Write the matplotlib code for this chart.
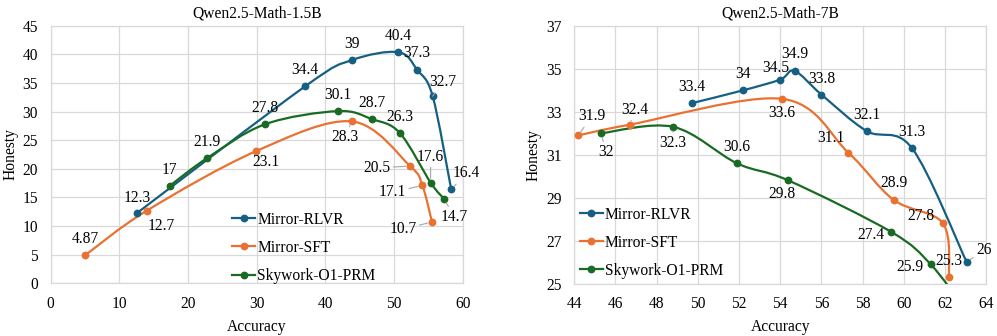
import numpy as np
import matplotlib
matplotlib.use("Agg")
import matplotlib.pyplot as plt
from matplotlib.path import Path
from matplotlib.patches import PathPatch

# ---------------- data ----------------
series_names = ["Mirror-RLVR", "Mirror-SFT", "Skywork-O1-PRM"]

# Qwen2.5-Math-1.5B
l_rlvr_x = [12.6, 37.0, 43.8, 50.6, 53.35, 55.6, 58.3]
l_rlvr_y = [12.3, 34.4, 39.0, 40.4, 37.3, 32.7, 16.4]
l_sft_x = [5.0, 14.0, 29.9, 43.8, 52.3, 54.1, 55.5]
l_sft_y = [4.87, 12.7, 23.1, 28.3, 20.5, 17.1, 10.7]
l_prm_x = [17.3, 22.8, 31.2, 41.8, 46.75, 50.8, 55.3, 57.3]
l_prm_y = [17.0, 21.9, 27.8, 30.1, 28.7, 26.3, 17.6, 14.7]

# Qwen2.5-Math-7B
r_rlvr_x = [49.7, 52.2, 54.0, 54.7, 56.0, 58.2, 60.4, 63.05]
r_rlvr_y = [33.4, 34.0, 34.5, 34.9, 33.8, 32.1, 31.3, 26.0]
r_sft_x = [44.2, 46.7, 54.1, 57.3, 59.5, 61.9, 62.2]
r_sft_y = [31.9, 32.4, 33.6, 31.1, 28.9, 27.8, 25.3]
r_prm_x = [45.3, 48.8, 51.9, 54.4, 59.4, 61.3, 62.9]
r_prm_y = [32.0, 32.3, 30.6, 29.8, 27.4, 25.9, 23.9]

# ---------------- styles ----------------
colors = ["#156082", "#E97132", "#196B24"]
FS = 11.2
plt.rcParams["font.family"] = ["Liberation Serif", "DejaVu Serif"]

# label offsets (pixels, dx, dy) and whether a leader line is drawn
l_offsets = [
    [(0, 15, 0), (0, 16, 0), (0, 16, 0), (0, 16, 0), (0, 17, 0), (10, 14, 1), (15, 16, 1)],
    [(0, 16, 0), (14, -15, 0), (10, -11, 0), (-7, -16, 1), (-33, -2, 1), (-30, -7, 1), (-29, -7, 1)],
    [(0, 16, 0), (0, 16, 0), (0, 16, 0), (0, 16, 0), (0, 16, 0), (0, 16, 0), (0, 26, 1), (10, -18, 1)],
]
r_offsets = [
    [(0, 16, 0), (0, 16, 0), (-4, 12, 0), (0, 17, 0), (0, 16, 0), (0, 16, 0), (0, 16, 0), (17, 12, 1)],
    [(13, 19, 1), (5, 15, 1), (0, -14, 0), (-17, 15, 0), (0, 17, 0), (-22, 7, 0), (0, 16, 0)],
    [(5, -19, 1), (0, -16, 1), (0, 16, 0), (-6, -14, 0), (-21, -3, 0), (-21, -3, 0)],
]


def smooth_path(ax, xs, ys):
    """Excel-like smoothed line (Catmull-Rom Bezier in display space)."""
    pts = ax.transData.transform(np.column_stack([xs, ys]))
    n = len(pts)
    verts = [pts[0]]
    codes = [Path.MOVETO]
    for i in range(n - 1):
        p0 = pts[i - 1] if i > 0 else pts[i]
        p1 = pts[i]
        p2 = pts[i + 1]
        p3 = pts[i + 2] if i + 2 < n else pts[i + 1]
        c1 = p1 + (p2 - p0) / 6.0
        c2 = p2 - (p3 - p1) / 6.0
        verts += [c1, c2, p2]
        codes += [Path.CURVE4] * 3
    verts = ax.transData.inverted().transform(np.array(verts))
    return Path(verts, codes)


fig = plt.figure(figsize=(9.97, 3.36), dpi=100)
axL = fig.add_axes([0.0508, 0.157, 0.4135, 0.766])
axR = fig.add_axes([0.576, 0.156, 0.4132, 0.767])


def setup(ax, title, xlim, ylim, xt, yt):
    ax.set_xlim(*xlim)
    ax.set_ylim(*ylim)
    ax.set_xticks(xt)
    ax.set_yticks(yt)
    ax.grid(True, color="#D9D9D9", lw=0.9)
    ax.set_axisbelow(True)
    for s in ax.spines.values():
        s.set_color("#D9D9D9")
        s.set_linewidth(0.9)
    ax.tick_params(length=0, labelsize=FS, pad=9, colors="black")
    ax.set_title(title, fontsize=FS, pad=6)
    ax.set_xlabel("Accuracy", fontsize=FS, labelpad=5)
    ax.set_ylabel("Honesty", fontsize=FS, labelpad=3)


setup(axL, "Qwen2.5-Math-1.5B", (0, 60), (0, 45), np.arange(0, 61, 10), np.arange(0, 46, 5))
setup(axR, "Qwen2.5-Math-7B", (44, 64), (25, 37), np.arange(44, 65, 2), np.arange(25, 38, 2))


def draw(ax, data, offsets, legend_anchor):
    handles = []
    for (xs, ys), c, name, offs in zip(data, colors, series_names, offsets):
        path = smooth_path(ax, xs, ys)
        ax.add_patch(PathPatch(path, fill=False, edgecolor=c, lw=1.6, zorder=3))
        ax.plot(xs, ys, ls="none", marker="o", ms=4.6, color=c, zorder=4)
        h, = ax.plot([], [], color=c, lw=1.6, marker="o", ms=4.6, label=name)
        handles.append(h)
        for (x, y, (dx, dy, lead)) in zip(xs, ys, offs):
            txt = ("%g" % y)
            kw = {}
            if lead:
                kw["arrowprops"] = dict(arrowstyle="-", color="#A6A6A6", lw=0.8,
                                        shrinkA=0, shrinkB=3)
            ax.annotate(txt, (x, y), xytext=(dx, dy), textcoords="offset pixels",
                        ha="center", va="center", fontsize=FS, zorder=5, **kw)
    leg = ax.legend(handles=handles, loc="upper left", bbox_to_anchor=legend_anchor,
                    frameon=False, fontsize=FS, handlelength=1.5, handletextpad=0.12,
                    labelspacing=0.78, borderaxespad=0)
    return leg


draw(axL, [(l_rlvr_x, l_rlvr_y), (l_sft_x, l_sft_y), (l_prm_x, l_prm_y)],
     l_offsets, (0.425, 0.302))
draw(axR, [(r_rlvr_x, r_rlvr_y), (r_sft_x, r_sft_y), (r_prm_x, r_prm_y)],
     r_offsets, (-0.002, 0.323))

fig.savefig("out.png", dpi=100)
